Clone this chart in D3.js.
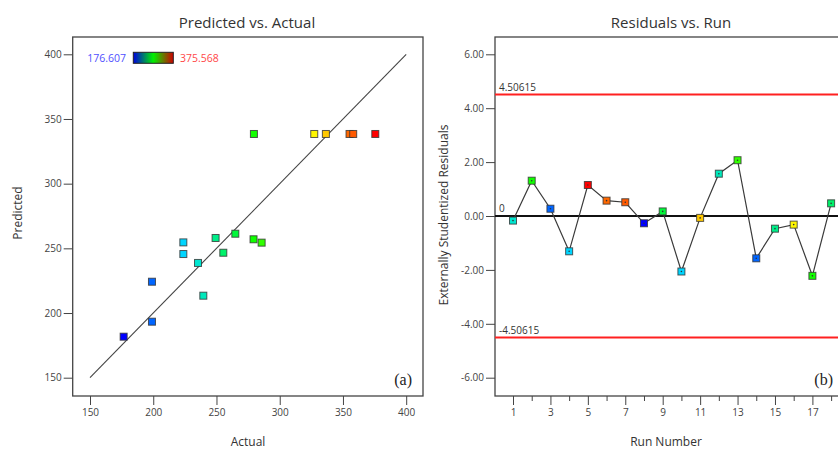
<!DOCTYPE html>
<html>
<head>
    <meta charset="utf-8">
    <script src="https://d3js.org/d3.v7.min.js"></script>
    <style>
        body { margin: 0; background: #fff; }
        text { font-family: "Open Sans", "Noto Sans", sans-serif; }
    </style>
</head>
<body>
    <script>
        // run order 1..18
        var runs = [1, 2, 3, 4, 5, 6, 7, 8, 9, 10, 11, 12, 13, 14, 15, 16, 17, 18];
        var actual = [235.4, 279.3, 199.0, 223.8, 375.568, 355.2, 358.1, 176.607, 264.9,
                      223.8, 336.5, 239.6, 285.7, 199.0, 249.3, 327.3, 279.6, 255.4];
        var predicted = [238.7, 257.0, 193.3, 245.6, 338.4, 338.4, 338.4, 181.7, 261.3,
                         254.6, 338.4, 213.4, 254.4, 224.2, 258.0, 338.4, 338.4, 246.6];
        var residuals = [-0.17, 1.31, 0.27, -1.31, 1.15, 0.57, 0.51, -0.27, 0.17,
                         -2.06, -0.07, 1.57, 2.07, -1.57, -0.47, -0.32, -2.22, 0.47];
        var actualTicks = [150, 200, 250, 300, 350, 400];
        var residTicks = [-6, -4, -2, 0, 2, 4, 6];
        var runLabels = [1, 3, 5, 7, 9, 11, 13, 15, 17];
        var limit = 4.50615;

        var width = 838, height = 450;
        var svg = d3.select("body").append("svg")
            .attr("width", width)
            .attr("height", height);

        // plain hyphen for negatives, like the original
        var loc = d3.formatLocale({decimal: ".", thousands: ",", grouping: [3], currency: ["", ""], minus: "-"});

        var lo = d3.min(actual), hi = d3.max(actual);
        var colour = d3.scaleLinear()
            .domain([0, 0.25, 0.5, 0.75, 1])
            .range(["#0000ff", "#00e0ff", "#00ff00", "#ffff00", "#ff0000"]);
        function fill(v) { return colour((v - lo) / (hi - lo)); }

        var data = runs.map(function(r, i) {
            return {run: r, actual: actual[i], predicted: predicted[i], resid: residuals[i]};
        });

        // ---------- (a) Predicted vs. Actual ----------
        var xL = d3.scaleLinear().domain([150, 400]).range([90, 406.2]);
        var yL = d3.scaleLinear().domain([150, 400]).range([377.7, 54.3]);

        var gA = svg.append("g");

        gA.append("text").attr("x", 247).attr("y", 28)
            .attr("text-anchor", "middle").style("font-size", "15px").attr("fill", "#333")
            .text("Predicted vs. Actual");

        gA.append("g").attr("transform", "translate(72.7,0)")
            .call(d3.axisLeft(yL).tickValues(actualTicks).tickSize(9).tickPadding(2))
            .call(function(g) { g.select(".domain").remove(); });
        gA.append("g").attr("transform", "translate(0,396)")
            .call(d3.axisBottom(xL).tickValues(actualTicks).tickSize(9).tickPadding(4))
            .call(function(g) { g.select(".domain").remove(); });

        gA.append("text").attr("x", 248).attr("y", 446)
            .attr("text-anchor", "middle").style("font-size", "12px").attr("fill", "#333")
            .text("Actual");
        gA.append("text").attr("transform", "translate(22,213) rotate(-90)")
            .attr("text-anchor", "middle").style("font-size", "12px").attr("fill", "#333")
            .text("Predicted");

        gA.append("rect").attr("x", 72.7).attr("y", 37).attr("width", 350.3).attr("height", 359)
            .attr("fill", "none").attr("stroke", "#444").attr("stroke-width", 1.3);

        gA.append("line")
            .attr("x1", xL(150)).attr("y1", yL(150))
            .attr("x2", xL(400)).attr("y2", yL(400))
            .attr("stroke", "#444").attr("stroke-width", 1.1);

        gA.selectAll("rect.pt").data(data).enter().append("rect")
            .attr("class", "pt")
            .attr("x", function(d) { return xL(d.actual) - 3.5; })
            .attr("y", function(d) { return yL(d.predicted) - 3.5; })
            .attr("width", 7).attr("height", 7)
            .attr("fill", function(d) { return fill(d.actual); })
            .attr("stroke", "#333").attr("stroke-opacity", 0.8).attr("stroke-width", 1);

        // colour legend
        var grad = svg.append("defs").append("linearGradient").attr("id", "leg");
        grad.append("stop").attr("offset", "0%").attr("stop-color", "#0000e0");
        grad.append("stop").attr("offset", "50%").attr("stop-color", "#00f000");
        grad.append("stop").attr("offset", "100%").attr("stop-color", "#d00000");
        gA.append("rect").attr("x", 133.3).attr("y", 52.3).attr("width", 40).attr("height", 11)
            .attr("fill", "url(#leg)").attr("stroke", "#222").attr("stroke-width", 1);
        gA.append("text").attr("x", 126).attr("y", 62).attr("text-anchor", "end")
            .style("font-size", "10.5px").attr("fill", "#4f4fff").text(d3.format(".3f")(lo));
        gA.append("text").attr("x", 180).attr("y", 62)
            .style("font-size", "10.5px").attr("fill", "#ff4848").text(d3.format(".3f")(hi));

        gA.append("text").attr("x", 412).attr("y", 385).attr("text-anchor", "end")
            .style("font-family", "'Liberation Serif', serif").style("font-size", "16px")
            .attr("fill", "#222").text("(a)");

        // ---------- (b) Residuals vs. Run ----------
        var xR = d3.scaleLinear().domain([1, 17]).range([513, 812.4]);
        var yR = d3.scaleLinear().domain([-6, 6]).range([377.7, 54.3]);

        var gB = svg.append("g");

        gB.append("text").attr("x", 671).attr("y", 28)
            .attr("text-anchor", "middle").style("font-size", "15px").attr("fill", "#333")
            .text("Residuals vs. Run");

        gB.append("g").attr("transform", "translate(495,0)")
            .call(d3.axisLeft(yR).tickValues(residTicks).tickSize(9).tickPadding(2)
                .tickFormat(loc.format(".2f")))
            .call(function(g) { g.select(".domain").remove(); });
        gB.append("g").attr("transform", "translate(0,396)")
            .call(d3.axisBottom(xR).tickValues(runs).tickSize(9).tickPadding(4)
                .tickFormat(function(d) { return runLabels.indexOf(d) >= 0 ? d : ""; }))
            .call(function(g) {
                g.select(".domain").remove();
                g.selectAll(".tick line").attr("y2", function(d) { return d % 2 ? 9 : 5; });
            });

        gB.append("text").attr("x", 666).attr("y", 446)
            .attr("text-anchor", "middle").style("font-size", "12px").attr("fill", "#333")
            .text("Run Number");
        gB.append("text").attr("transform", "translate(448,215) rotate(-90)")
            .attr("text-anchor", "middle").style("font-size", "12px").attr("fill", "#333")
            .text("Externally Studentized Residuals");

        gB.append("rect").attr("x", 495).attr("y", 37).attr("width", 370).attr("height", 359)
            .attr("fill", "none").attr("stroke", "#444").attr("stroke-width", 1.3);

        [limit, -limit].forEach(function(v) {
            gB.append("line").attr("x1", 495).attr("x2", 838)
                .attr("y1", yR(v)).attr("y2", yR(v))
                .attr("stroke", "#ff2020").attr("stroke-width", 2);
            gB.append("text").attr("x", 499).attr("y", yR(v) - 3.5)
                .style("font-size", "10px").attr("fill", "#333").text(loc.format(".5f")(v));
        });
        gB.append("line").attr("x1", 495).attr("x2", 838)
            .attr("y1", yR(0)).attr("y2", yR(0))
            .attr("stroke", "#111").attr("stroke-width", 1.8);
        gB.append("text").attr("x", 499).attr("y", yR(0) - 4)
            .style("font-size", "10px").attr("fill", "#333").text("0");

        gB.append("path").datum(data)
            .attr("d", d3.line()
                .x(function(d) { return xR(d.run); })
                .y(function(d) { return yR(d.resid); }))
            .attr("fill", "none").attr("stroke", "#3a3a3a").attr("stroke-width", 1.2);

        gB.selectAll("rect.pt").data(data).enter().append("rect")
            .attr("class", "pt")
            .attr("x", function(d) { return xR(d.run) - 3.5; })
            .attr("y", function(d) { return yR(d.resid) - 3.5; })
            .attr("width", 7).attr("height", 7)
            .attr("fill", function(d) { return fill(d.actual); })
            .attr("stroke", "#333").attr("stroke-opacity", 0.8).attr("stroke-width", 1);
        gB.selectAll("circle.dot").data(data).enter().append("circle")
            .attr("cx", function(d) { return xR(d.run); })
            .attr("cy", function(d) { return yR(d.resid); })
            .attr("r", 0.8).attr("fill", "#333");

        gB.append("text").attr("x", 833).attr("y", 385).attr("text-anchor", "end")
            .style("font-family", "'Liberation Serif', serif").style("font-size", "16px")
            .attr("fill", "#222").text("(b)");

        svg.selectAll(".tick text").style("font-size", "10px").attr("fill", "#444");
        svg.selectAll(".tick line").attr("stroke", "#444");
    </script>
</body>
</html>
